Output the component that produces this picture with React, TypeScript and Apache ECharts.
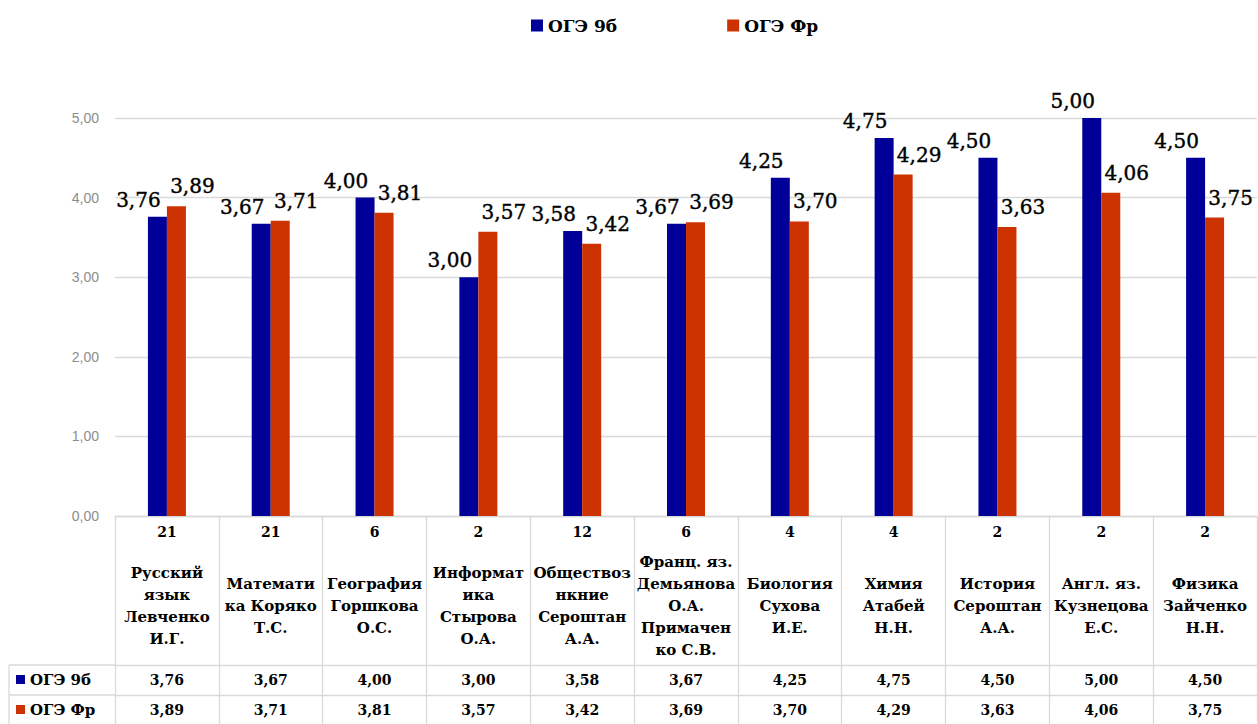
import React, { useEffect, useRef } from "react";
import * as echarts from "echarts";

const categories = [
  "Русский\nязык\nЛевченко\nИ.Г.",
  "Математи\nка Коряко\nТ.С.",
  "География\nГоршкова\nО.С.",
  "Информат\nика\nСтырова\nО.А.",
  "Обществоз\nнкние\nСероштан\nА.А.",
  "Франц. яз.\nДемьянова\nО.А.\nПримачен\nко С.В.",
  "Биология\nСухова\nИ.Е.",
  "Химия\nАтабей\nН.Н.",
  "История\nСероштан\nА.А.",
  "Англ. яз.\nКузнецова\nЕ.С.",
  "Физика\nЗайченко\nН.Н.",
];
const counts = ["21", "21", "6", "2", "12", "6", "4", "4", "2", "2", "2"];
const seriesNames = ["ОГЭ 9б", "ОГЭ Фр"];
const oge9b = [3.76, 3.67, 4.0, 3.0, 3.58, 3.67, 4.25, 4.75, 4.5, 5.0, 4.5];
const ogeFr = [3.89, 3.71, 3.81, 3.57, 3.42, 3.69, 3.7, 4.29, 3.63, 4.06, 3.75];
const yMin = 0;
const yMax = 5;
const yStep = 1;

const BLUE = "#000099";
const RED = "#cc3300";
const GRID = "#d9d9d9";
const SERIF = "'DejaVu Serif', serif";

const fmt = (v: number) => v.toFixed(2).replace(".", ",");

export default function App() {
  const ref = useRef<HTMLDivElement>(null);
  useEffect(() => {
    if (!ref.current) return;
    const chart = echarts.init(ref.current, undefined, { renderer: "svg" });
    const valueAxis = (offset: number, values: number[]) => ({
      type: "category",
      data: categories,
      position: "bottom",
      offset,
      axisLine: { show: true, lineStyle: { color: GRID, width: 1.3 } },
      axisTick: { show: false },
      axisLabel: {
        interval: 0,
        margin: 15,
        verticalAlign: "middle",
        fontFamily: SERIF,
        fontWeight: "bold",
        fontSize: 14,
        color: "#000",
        formatter: (_: string, i: number) => fmt(values[i]),
      },
    });
    const dataLabel = (dx: number, dist: number) => ({
      show: true,
      position: "top",
      distance: dist,
      offset: [dx, 0],
      fontFamily: SERIF,
      fontSize: 20,
      color: "#000",
      textBorderColor: "#000",
      textBorderWidth: 0.4,
      formatter: (p: any) => fmt(p.value),
    });
    chart.setOption({
      animation: false,
      backgroundColor: "#fff",
      legend: {
        data: seriesNames,
        left: 526,
        top: 12,
        itemWidth: 12,
        itemHeight: 12,
        itemGap: 110,
        icon: "rect",
        textStyle: { fontFamily: SERIF, fontWeight: "bold", fontSize: 17, color: "#000" },
      },
      grid: { left: 115, right: 1, top: 118, bottom: 208, containLabel: false },
      yAxis: {
        type: "value",
        min: yMin,
        max: yMax,
        interval: yStep,
        axisLine: { show: false },
        axisTick: { show: false },
        splitLine: { lineStyle: { color: GRID, width: 1.3 } },
        axisLabel: {
          margin: 16,
          color: "#8c8c8c",
          fontFamily: "'Liberation Sans', sans-serif",
          fontSize: 14,
          formatter: (v: number) => fmt(v),
        },
      },
      xAxis: [
        {
          type: "category",
          data: categories,
          position: "bottom",
          axisLine: { show: true, lineStyle: { color: GRID, width: 1.3 } },
          axisTick: { show: true, length: 208, interval: 0, lineStyle: { color: GRID, width: 1.3 } },
          axisLabel: {
            interval: 0,
            margin: 9,
            fontFamily: SERIF,
            fontWeight: "bold",
            fontSize: 14,
            color: "#000",
            formatter: (_: string, i: number) => counts[i],
          },
        },
        {
          type: "category",
          data: categories,
          position: "bottom",
          axisLine: { show: false },
          axisTick: { show: false },
          axisLabel: {
            interval: 0,
            margin: 90,
            verticalAlign: "middle",
            lineHeight: 22,
            fontFamily: SERIF,
            fontWeight: "bold",
            fontSize: 15,
            color: "#000",
          },
        },
        valueAxis(149, oge9b),
        valueAxis(179, ogeFr),
      ],
      series: [
        {
          name: seriesNames[0],
          type: "bar",
          data: oge9b,
          barWidth: 19,
          barGap: "0%",
          itemStyle: { color: BLUE },
          label: dataLabel(-19, 7),
        },
        {
          name: seriesNames[1],
          type: "bar",
          data: ogeFr,
          barWidth: 19,
          barGap: "0%",
          itemStyle: { color: RED },
          label: dataLabel(16, 10),
        },
      ],
      graphic: [
        { type: "line", shape: { x1: 9, y1: 665, x2: 115, y2: 665 }, style: { stroke: GRID, lineWidth: 1.3 } },
        { type: "line", shape: { x1: 9, y1: 695, x2: 115, y2: 695 }, style: { stroke: GRID, lineWidth: 1.3 } },
        { type: "line", shape: { x1: 9, y1: 665, x2: 9, y2: 724 }, style: { stroke: GRID, lineWidth: 1.3 } },
        { type: "rect", shape: { x: 16, y: 675, width: 9, height: 9 }, style: { fill: BLUE } },
        { type: "rect", shape: { x: 16, y: 705, width: 9, height: 9 }, style: { fill: RED } },
        {
          type: "text",
          x: 30,
          y: 680,
          style: { text: seriesNames[0], fontFamily: SERIF, fontWeight: "bold", fontSize: 15, fill: "#000", verticalAlign: "middle" },
        },
        {
          type: "text",
          x: 30,
          y: 710,
          style: { text: seriesNames[1], fontFamily: SERIF, fontWeight: "bold", fontSize: 15, fill: "#000", verticalAlign: "middle" },
        },
      ],
    });
    return () => chart.dispose();
  }, []);
  return (
    <div
      ref={ref}
      style={{ position: "fixed", left: 0, top: 0, width: 1258, height: 724 }}
    />
  );
}
